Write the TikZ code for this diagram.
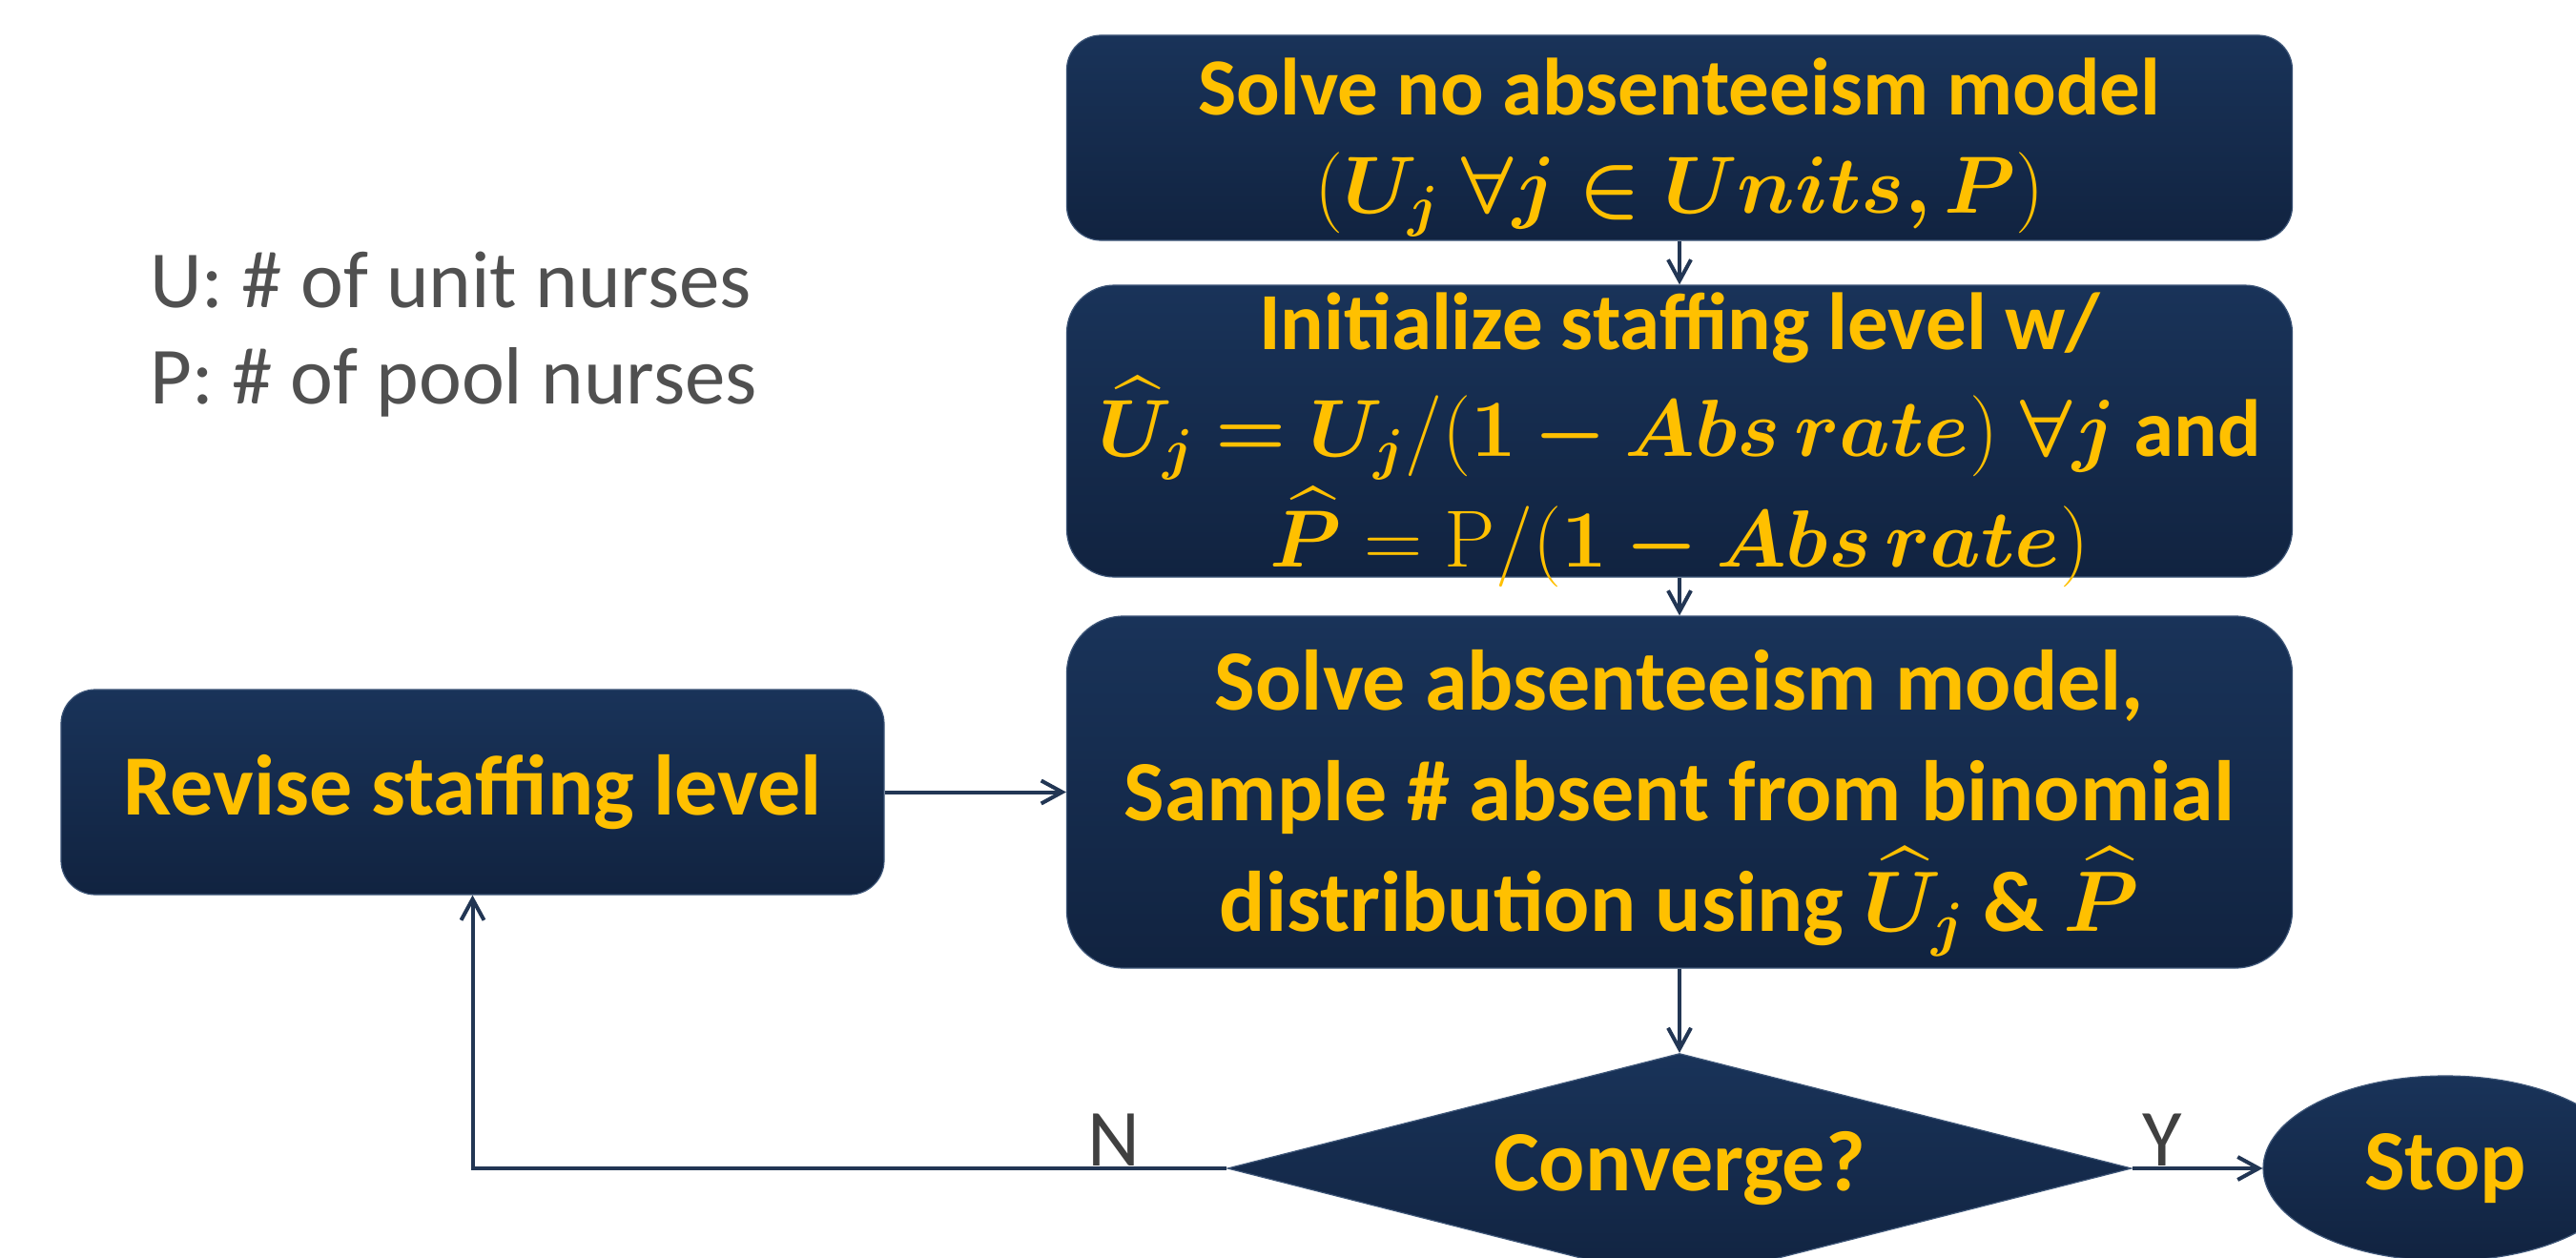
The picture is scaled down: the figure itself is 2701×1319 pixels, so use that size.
\documentclass[tikz,border=0pt]{standalone}
\usepackage{fix-cm}
\usepackage{amsmath,amssymb}
\usepackage{bm}
\usepackage{fontspec}
\newfontfamily\carlito{Carlito}
\usetikzlibrary{shapes.geometric,arrows.meta}
\definecolor{navytop}{RGB}{25,51,89}
\definecolor{navybot}{RGB}{17,35,64}
\definecolor{navyedge}{RGB}{62,86,120}
\definecolor{gold}{RGB}{255,192,0}
\definecolor{connc}{RGB}{34,54,84}
\definecolor{labgray}{RGB}{64,64,64}
\definecolor{leggray}{RGB}{80,80,80}
\newcommand\myboxfont{\carlito\bfseries\fontsize{85}{103}\selectfont}
\newcommand\myboxfontB{\carlito\bfseries\fontsize{85}{112}\selectfont}
\newcommand\myboxfontL{\carlito\bfseries\fontsize{90}{116}\selectfont}
\newcommand\mylabfont{\carlito\fontsize{85}{101}\selectfont}
\newcommand\topstrut[1]{\rule{0pt}{#1}}
\tikzset{
  flowbox/.style={draw=navyedge, line width=1.2pt, top color=navytop, bottom color=navybot,
    text=gold, font=\myboxfont, align=center, inner sep=0pt},
  boxtext/.style={text=gold, align=center, inner sep=0pt},
  connector/.style={draw=connc, line width=4pt,
    -{Straight Barb[length=22pt,width=24pt]}},
  lab/.style={text=labgray, font=\mylabfont, inner sep=0pt},
  legend/.style={text=leggray, font=\mylabfont, inner sep=0pt, anchor=base west}
}
\begin{document}
\begin{tikzpicture}[x=1pt,y=-1pt]
\clip (0,0) rectangle (2701,1319);
\fill[white] (0,0) rectangle (2701,1319);

% legend
\node[legend] (legU) at (157,322) {U: \# of unit nurses};
\node[legend] (legP) at (157,423) {P: \# of pool nurses};

% boxes
\node[flowbox, rounded corners=36pt, minimum width=1285pt, minimum height=215pt] (solve0) at (1761,144.5)
  {\topstrut{80pt}Solve no absenteeism model\\ $(\bm{U_j\;\forall j\in Units,P})$};
\node[flowbox, rounded corners=50pt, minimum width=1285pt, minimum height=306pt] (init) at (1761,452) {};
\node[boxtext, font=\myboxfontB] (inittxt) at (1761,461)
  {Initialize staffing level w/\\
   $\bm{\widehat{U}_j = U_j}/(\bm{1 - Abs\,rate})\;\bm{\forall j}$ and\\[4pt]
   $\bm{\widehat{P}} = \mathrm{P}/(\bm{1 - Abs\,rate})$};
\node[flowbox, font=\myboxfontL, rounded corners=60pt, minimum width=1285pt, minimum height=369pt] (solveabs) at (1761,830.5)
  {\topstrut{86pt}Solve absenteeism model,\\ Sample \# absent from binomial\\ distribution using $\bm{\widehat{U}_j}$ \& $\bm{\widehat{P}}$};
\node[flowbox, font=\myboxfontL, rounded corners=36pt, minimum width=863pt, minimum height=215pt] (revise) at (495.5,830.5)
  {Revise staffing level};
\node[flowbox, font=\myboxfontL, diamond, aspect=3.95, minimum width=948pt, minimum height=241pt] (conv) at (1761,1225)
  {Converge?};
\node[flowbox, font=\myboxfontL, ellipse, minimum width=382pt, minimum height=194pt] (stop) at (2564,1225)
  {Stop};

% connectors
\draw[connector] (solve0) -- (init);
\draw[connector] (init) -- (solveabs);
\draw[connector] (solveabs) -- (conv);
\draw[connector] (conv) -- (stop);
\draw[connector] (conv.west) -| (revise.south);
\draw[connector] (revise) -- (solveabs);

% labels
\node[lab, anchor=base] (nlab) at (1168,1222) {N};
\node[lab, anchor=base] (ylab) at (2267,1222) {Y};
\end{tikzpicture}
\end{document}
